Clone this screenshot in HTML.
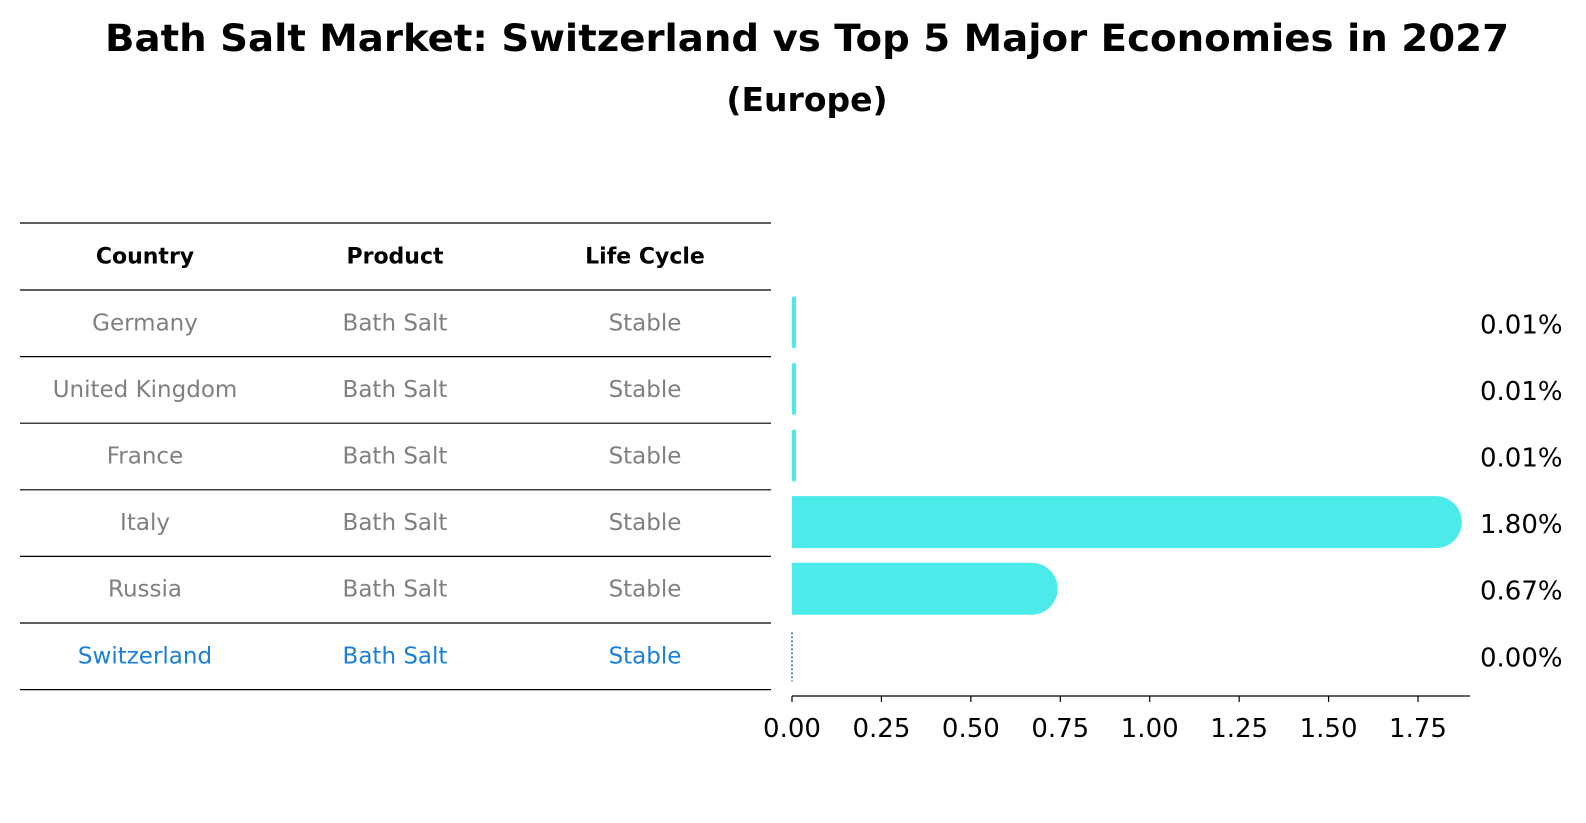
<!DOCTYPE html>
<html><head><meta charset="utf-8">
<style>
html,body{margin:0;padding:0;background:#fff;}
svg{display:block;font-family:"DejaVu Sans","Liberation Sans",sans-serif;}
</style></head>
<body>
<svg id="chart" width="1586" height="823" viewBox="0 0 1586 823" xmlns="http://www.w3.org/2000/svg">
<rect width="1586" height="823" fill="#fff"/>
<text x="807" y="51" text-anchor="middle" font-size="37" font-weight="bold" textLength="1404" lengthAdjust="spacingAndGlyphs">Bath Salt Market: Switzerland vs Top 5 Major Economies in 2027</text>
<text x="807" y="111" text-anchor="middle" font-size="33" font-weight="bold">(Europe)</text>
<g id="table"></g>
<g id="bars"></g>
</svg>
<script>
const countries = ["Germany","United Kingdom","France","Italy","Russia","Switzerland"];
const products = ["Bath Salt","Bath Salt","Bath Salt","Bath Salt","Bath Salt","Bath Salt"];
const lifeCycles = ["Stable","Stable","Stable","Stable","Stable","Stable"];
const shares = [0.01,0.01,0.01,1.80,0.67,0.00];
const shareLabels = ["0.01%","0.01%","0.01%","1.80%","0.67%","0.00%"];
const tickValues = [0,0.25,0.5,0.75,1.0,1.25,1.5,1.75];
const tickLabels = ["0.00","0.25","0.50","0.75","1.00","1.25","1.50","1.75"];

const NS="http://www.w3.org/2000/svg";
function mk(tag,attrs,parent){const e=document.createElementNS(NS,tag);for(const k in attrs)e.setAttribute(k,attrs[k]);parent.appendChild(e);return e;}
const x0=792, pxPerUnit=(1418-792)/1.75;
function xScale(v){return x0+v*pxPerUnit;}
const tableTop=223, headerH=67, rowH=66.6;
function rowCenter(i){return tableTop+headerH+rowH*(i+0.5);}

const table=document.getElementById('table');
const colX=[145,395,645];
const headers=["Country","Product","Life Cycle"];
const lineYs=[tableTop,tableTop+headerH];
for(let i=1;i<=countries.length;i++)lineYs.push(tableTop+headerH+rowH*i);
lineYs.forEach(y=>{
  const l=mk('line',{x1:20,x2:771,y1:y,y2:y,stroke:'#000','stroke-width':1.2},table);
  
  
});
headers.forEach((h,j)=>{
  const t=mk('text',{x:colX[j],y:tableTop+headerH/2+7,'text-anchor':'middle','font-size':22,'font-weight':'bold'},table);
  t.textContent=h;
  
  
});
countries.forEach((c,i)=>{
  const col = i===countries.length-1 ? '#1a80d8' : '#808080';
  [c,products[i],lifeCycles[i]].forEach((v,j)=>{
    const t=mk('text',{x:colX[j],y:rowCenter(i)+7,'text-anchor':'middle','font-size':23,fill:col},table);
    t.textContent=v;
    
    
  });
});

const bars=document.getElementById('bars');
const barH=52, cap=26;
shares.forEach((v,i)=>{
  const cy=rowCenter(i)-1;
  if(v===0){
    const l=mk('line',{x1:x0,x2:x0,y1:cy-barH/2+3,y2:cy+barH/2,stroke:'#2a6fb8','stroke-width':1.6,'stroke-dasharray':'2,2'},bars);
    
    
  } else {
    const w=xScale(v)-x0;
    let r;
    if(w>cap*2){
      r=mk('path',{d:`M${x0},${cy-barH/2} H${x0+w} A${cap},${cap} 0 0 1 ${x0+w},${cy+barH/2} H${x0} Z`,fill:'#4deaea'},bars);
    } else {
      r=mk('rect',{x:x0,y:cy-barH/2,width:Math.max(w,4),height:barH,rx:2,fill:'#4deaea'},bars);
    }
    
    
  }
  const t=mk('text',{x:1480,y:cy+11,'font-size':26},bars);
  t.textContent=shareLabels[i];
  
  
});
const ax=mk('line',{x1:x0,x2:1470,y1:696,y2:696,stroke:'#000','stroke-width':1.3},bars);


tickValues.forEach((v,i)=>{
  const x=xScale(v);
  const tk=mk('line',{x1:x,x2:x,y1:696,y2:702,stroke:'#000','stroke-width':1.2},bars);
  
  
  const t=mk('text',{x:x,y:737,'text-anchor':'middle','font-size':26},bars);
  t.textContent=tickLabels[i];
  
  
});
</script>
</body></html>
